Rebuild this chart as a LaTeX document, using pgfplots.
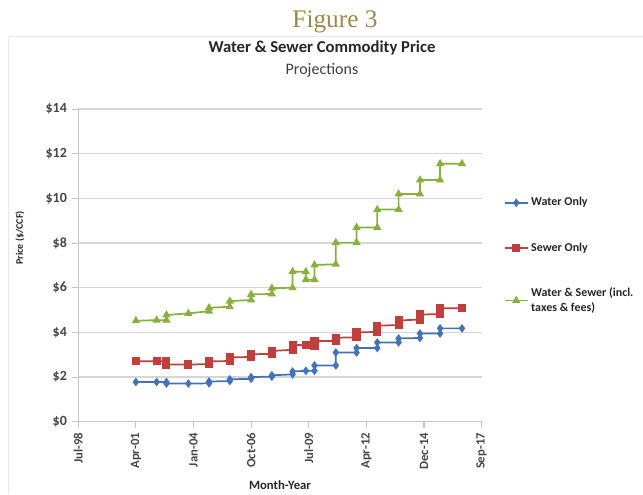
\documentclass[border=0pt]{standalone}
\usepackage{pgfplots}
\pgfplotsset{compat=1.18}
\usepackage{fontspec}
\setmainfont{Carlito}
\newfontfamily\serifg{Liberation Serif}
\definecolor{wblue}{RGB}{69,114,180}
\definecolor{sred}{RGB}{192,62,60}
\definecolor{wgreen}{RGB}{137,175,62}
\definecolor{figgold}{RGB}{156,136,74}
\definecolor{ticktxt}{RGB}{70,70,70}
\begin{document}
\begin{tikzpicture}[x=0.75pt,y=0.75pt]
\useasboundingbox (0,0) rectangle (643,494);
\draw[gray!18, line width=0.6pt] (8,0) -- (8,458) -- (643,458);
\node[font=\serifg\fontsize{19}{22}\selectfont, text=figgold, anchor=base] at (335,466) {Figure 3};
\node[font=\bfseries\fontsize{12.5}{14}\selectfont, text=black!85, anchor=base] at (322,441) {Water \& Sewer Commodity Price};
\node[font=\fontsize{12}{14}\selectfont, text=black!75, anchor=base] at (322,419) {Projections};
\node[font=\bfseries\fontsize{7.5}{9}\selectfont, text=black!85, rotate=90] at (20,256) {Price (\$/CCF)};
\node[font=\bfseries\fontsize{9.5}{11}\selectfont, text=black!85, anchor=base] at (280,4.5) {Month-Year};
\begin{axis}[
  at={(58.7pt,54.2pt)}, anchor=south west,
  scale only axis, width=302.5pt, height=234.5pt,
  xmin=36, xmax=43, ymin=0, ymax=14,
  xtick={36,37,38,39,40,41,42,43},
  xticklabels={Jul-98,Apr-01,Jan-04,Oct-06,Jul-09,Apr-12,Dec-14,Sep-17},
  ytick={0,2,4,6,8,10,12,14},
  yticklabels={\$0,\$2,\$4,\$6,\$8,\$10,\$12,\$14},
  x tick label style={rotate=90, anchor=east, font=\bfseries\fontsize{9.5}{11}\selectfont, text=ticktxt},
  y tick label style={font=\bfseries\fontsize{10.5}{12}\selectfont, text=ticktxt},
  axis x line*=bottom, axis y line*=left,
  axis line style={gray!45, line width=0.8pt},
  tick style={gray!45, line width=0.8pt},
  tick align=outside, major tick length=5pt,
  ymajorgrids, grid style={gray!32, line width=0.9pt},
  legend style={at={(1.045,0.735)}, anchor=north west, draw=none, fill=none,
    font=\bfseries\fontsize{9}{11}\selectfont, text=black!85, row sep=22pt,
    nodes={align=left}},
  legend cell align=left,
]
\addplot[wblue, line width=1.3pt, mark=diamond*, mark size=2.2pt] coordinates {
(37.00,1.78) (37.36,1.78) (37.53,1.78) (37.53,1.71) (37.91,1.71)
(38.27,1.72) (38.27,1.80) (38.63,1.82) (38.63,1.90) (39.00,1.92) (39.00,2.00)
(39.36,2.02) (39.36,2.08) (39.72,2.12) (39.72,2.25) (39.95,2.28) (40.10,2.28)
(40.10,2.52) (40.47,2.52) (40.47,3.10) (40.83,3.10) (40.83,3.30)
(41.19,3.30) (41.19,3.55) (41.56,3.55) (41.56,3.73) (41.93,3.75) (41.93,3.95)
(42.28,3.95) (42.28,4.18) (42.66,4.18)};
\addlegendentry{Water Only}
\addplot[sred, line width=1.3pt, mark=square*, mark size=2.4pt] coordinates {
(37.00,2.71) (37.36,2.71) (37.53,2.71) (37.53,2.56) (37.91,2.56)
(38.27,2.58) (38.27,2.70) (38.63,2.72) (38.63,2.88) (39.00,2.90) (39.00,3.02)
(39.36,3.04) (39.36,3.17) (39.72,3.22) (39.72,3.45) (39.95,3.42) (40.10,3.38)
(40.10,3.62) (40.47,3.62) (40.47,3.76) (40.83,3.78) (40.83,4.00)
(41.19,4.02) (41.19,4.30) (41.56,4.33) (41.56,4.53) (41.93,4.58) (41.93,4.80)
(42.28,4.82) (42.28,5.08) (42.66,5.08)};
\addlegendentry{Sewer Only}
\addplot[wgreen, line width=1.3pt, mark=triangle*, mark size=2.3pt] coordinates {
(37.00,4.52) (37.36,4.55) (37.53,4.55) (37.53,4.78) (37.91,4.85)
(38.27,4.95) (38.27,5.10) (38.63,5.15) (38.63,5.40) (39.00,5.45) (39.00,5.70)
(39.36,5.72) (39.36,5.98) (39.72,6.00) (39.72,6.72) (39.95,6.72) (39.95,6.36)
(40.10,6.36) (40.10,7.02) (40.47,7.05) (40.47,8.02) (40.83,8.02) (40.83,8.70)
(41.19,8.70) (41.19,9.50) (41.56,9.50) (41.56,10.20) (41.93,10.20) (41.93,10.82)
(42.28,10.82) (42.28,11.55) (42.66,11.55)};
\addlegendentry{Water \& Sewer (incl.\\taxes \& fees)}
\end{axis}
\end{tikzpicture}
\end{document}
